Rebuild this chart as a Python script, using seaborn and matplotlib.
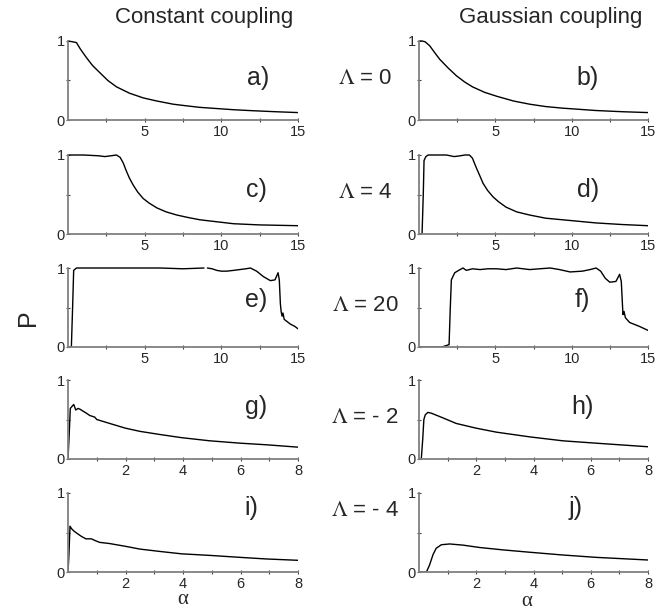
"""P versus alpha for constant and Gaussian coupling at several Lambda values."""

import matplotlib.pyplot as plt
import numpy as np
import pandas as pd
import seaborn as sns

# ---- data -----------------------------------------------------------------
# a) constant coupling, Lambda = 0
a_x = [0, 0.3, 0.55, 0.8, 1.2, 1.6, 2.07, 2.6, 3.16, 4.0, 4.9, 5.8, 6.86, 7.7,
       8.6, 9.7, 10.8, 12.0, 13.5, 15]
a_y = [1.0, 0.99, 0.98, 0.9, 0.79, 0.69, 0.6, 0.5, 0.42, 0.34, 0.28, 0.24, 0.2,
       0.18, 0.16, 0.145, 0.13, 0.118, 0.105, 0.094]
# b) Gaussian coupling, Lambda = 0
b_x = [0, 0.2, 0.4, 0.7, 1.0, 1.35, 1.9, 2.45, 3.0, 3.5, 4.3, 5.1, 6.2, 7.25,
       8.3, 9.4, 10.5, 11.6, 13.3, 15]
b_y = [1.0, 1.0, 0.99, 0.94, 0.86, 0.77, 0.66, 0.56, 0.48, 0.42, 0.35, 0.3,
       0.24, 0.2, 0.17, 0.15, 0.135, 0.12, 0.105, 0.094]
# c) constant coupling, Lambda = 4
c_x = [0, 1.0, 2.0, 2.4, 2.8, 3.16, 3.4, 3.6, 3.8, 4.0, 4.25, 4.55, 4.9, 5.3,
       5.8, 6.4, 7.1, 7.8, 8.6, 9.7, 10.8, 12.5, 15]
c_y = [1.0, 1.0, 0.99, 0.98, 0.99, 1.0, 0.97, 0.9, 0.8, 0.71, 0.62, 0.53, 0.45,
       0.39, 0.33, 0.28, 0.24, 0.21, 0.18, 0.155, 0.13, 0.115, 0.105]
# d) Gaussian coupling, Lambda = 4
d_x = [0, 0.2, 0.28, 0.33, 0.45, 0.6, 1.2, 1.8, 2.3, 2.7, 3.0, 3.3, 3.5, 3.75,
       4.0, 4.2, 4.5, 4.85, 5.2, 5.7, 6.4, 7.25, 8.3, 9.4, 11.6, 13.3, 15]
d_y = [0.0, 0.0, 0.5, 0.93, 0.98, 1.0, 1.0, 1.0, 0.98, 0.99, 1.0, 1.0, 0.96,
       0.84, 0.73, 0.64, 0.55, 0.47, 0.41, 0.34, 0.28, 0.24, 0.2, 0.18, 0.14,
       0.12, 0.105]
# e) constant coupling, Lambda = 20 (the line breaks near alpha = 9)
e1_x = [0, 0.22, 0.3, 0.37, 0.55, 2.0, 4.0, 6.0, 7.5, 8.87]
e1_y = [0.0, 0.0, 0.5, 0.97, 1.0, 1.0, 1.0, 1.0, 0.99, 1.0]
e2_x = [9.09, 9.4, 9.7, 10.0, 10.35, 10.8, 11.2, 11.6, 11.9, 12.3, 12.75, 13.2,
        13.5, 13.7, 13.78, 13.85, 13.9, 13.96, 14.02, 14.1, 14.5, 14.8, 15]
e2_y = [1.0, 0.99, 0.97, 0.96, 0.96, 0.97, 0.98, 0.99, 1.0, 0.96, 0.89, 0.84,
        0.85, 0.94, 0.85, 0.55, 0.45, 0.39, 0.43, 0.35, 0.29, 0.26, 0.23]
# f) Gaussian coupling, Lambda = 20
f_x = [0, 1.5, 1.97, 2.05, 2.12, 2.34, 2.6, 2.88, 3.1, 3.5, 4.0, 4.5, 5.07,
       5.7, 6.4, 7.25, 7.9, 8.6, 9.2, 9.9, 10.7, 11.2, 11.6, 11.9, 12.2, 12.5,
       12.9, 13.14, 13.25, 13.36, 13.43, 13.52, 13.8, 14.45, 15]
f_y = [0.0, 0.0, 0.03, 0.5, 0.85, 0.94, 0.97, 1.0, 0.97, 0.99, 0.98, 0.99,
       0.99, 0.98, 1.0, 0.98, 0.99, 1.0, 0.98, 0.95, 0.96, 0.98, 1.0, 0.96,
       0.87, 0.82, 0.83, 0.92, 0.83, 0.41, 0.45, 0.37, 0.31, 0.26, 0.21]
# g) constant coupling, Lambda = -2
g_x = [0, 0.04, 0.08, 0.15, 0.2, 0.27, 0.35, 0.42, 0.55, 0.64, 0.76, 0.85,
       0.93, 1.0, 1.45, 2.0, 2.5, 3.2, 3.95, 4.94, 6.0, 6.9, 8.0]
g_y = [0.0, 0.3, 0.64, 0.67, 0.69, 0.62, 0.64, 0.63, 0.6, 0.58, 0.55, 0.54,
       0.53, 0.5, 0.45, 0.39, 0.35, 0.31, 0.27, 0.23, 0.2, 0.18, 0.15]
# h) Gaussian coupling, Lambda = -2
h_x = [0, 0.08, 0.13, 0.17, 0.22, 0.31, 0.43, 0.84, 1.3, 2.0, 2.7, 3.87, 5.03,
       6.2, 8.0]
h_y = [0.0, 0.0, 0.25, 0.5, 0.56, 0.59, 0.58, 0.52, 0.45, 0.39, 0.34, 0.28,
       0.23, 0.2, 0.155]
# i) constant coupling, Lambda = -4
i_x = [0, 0.03, 0.07, 0.12, 0.2, 0.31, 0.47, 0.62, 0.81, 0.93, 1.1, 1.45, 2.0,
       2.5, 3.2, 3.95, 4.94, 6.0, 6.9, 8.0]
i_y = [0.0, 0.2, 0.58, 0.55, 0.52, 0.49, 0.45, 0.42, 0.42, 0.4, 0.375, 0.36,
       0.325, 0.29, 0.26, 0.23, 0.21, 0.185, 0.165, 0.148]
# j) Gaussian coupling, Lambda = -4
j_x = [0, 0.26, 0.37, 0.49, 0.6, 0.78, 1.07, 1.54, 2.12, 2.93, 3.87, 5.03,
       6.2, 8.0]
j_y = [0.0, 0.0, 0.09, 0.22, 0.3, 0.345, 0.355, 0.34, 0.31, 0.28, 0.25, 0.215,
       0.185, 0.152]

panel_letters = ["a)", "b)", "c)", "d)", "e)", "f)", "g)", "h)", "i)", "j)"]
lambda_labels = ["0", "4", "20", "- 2", "- 4"]
column_titles = ["Constant coupling", "Gaussian coupling"]
row_xmax = [15, 15, 15, 8, 8]

curves = [
    [(a_x, a_y)], [(b_x, b_y)],
    [(c_x, c_y)], [(d_x, d_y)],
    [(e1_x, e1_y), (e2_x, e2_y)], [(f_x, f_y)],
    [(g_x, g_y)], [(h_x, h_y)],
    [(i_x, i_y)], [(j_x, j_y)],
]

# ---- style ---------------------------------------------------------------
sns.set_style("ticks")
plt.rcParams["font.family"] = ["Liberation Sans", "DejaVu Sans"]
plt.rcParams["mathtext.fontset"] = "stix"

_SPINE = "#808080"
W, H = 667, 612

fig = plt.figure(figsize=(W / 100, H / 100), dpi=100)

col_left = [68, 419]
col_width = [230, 229]
row_zero = [120, 234, 347, 459, 572]  # pixel row of P = 0
unit = 79                              # pixels for P = 1
top_pad = 1.05

# pixel centres of the panel letters
letter_pos = [(258, 78), (588, 78), (256, 190), (588, 190), (256, 300),
              (582, 300), (256, 407), (582, 407), (251, 508), (576, 508)]

for r in range(5):
    for c in range(2):
        k = 2 * r + c
        left = col_left[c] / W
        bottom = 1 - row_zero[r] / H
        height = unit * top_pad / H
        ax = fig.add_axes([left, bottom, col_width[c] / W, height])
        for xs, ys in curves[k]:
            df = pd.DataFrame({"alpha": xs, "P": ys})
            sns.lineplot(data=df, x="alpha", y="P", ax=ax, color="black",
                         linewidth=1.0, estimator=None, sort=False)
        xmax = row_xmax[r]
        ax.set_xlim(0, xmax)
        ax.set_ylim(0, top_pad)
        ax.set_xlabel("")
        ax.set_ylabel("")
        for s in ("top", "right"):
            ax.spines[s].set_visible(False)
        for s in ("left", "bottom"):
            ax.spines[s].set_color(_SPINE)
            ax.spines[s].set_linewidth(1.3)
        ax.spines["left"].set_bounds(0, 1)
        ax.set_yticks([0, 1])
        ax.set_yticks([0.5], minor=True)
        if xmax == 15:
            ax.set_xticks([5, 10, 15])
            ax.set_xticks([2.5, 7.5, 12.5], minor=True)
        else:
            ax.set_xticks([2, 4, 6, 8])
            ax.set_xticks([1, 3, 5, 7], minor=True)
        ax.tick_params(which="both", direction="inout", length=3, width=0.8,
                       color="#404040", labelsize=10.5, pad=1)
        ax.tick_params(axis="x", pad=2)
        lx, ly = letter_pos[k]
        fig.text(lx / W, 1 - ly / H, panel_letters[k], fontsize=18,
                 ha="center", va="center")

# Lambda labels in the middle column
for r in range(5):
    y = 1 - (row_zero[r] - 0.52 * unit) / H
    if r == 4:
        y = 1 - (row_zero[r] - 0.78 * unit) / H
    fig.text(365 / W, y, r"$\Lambda$ = " + lambda_labels[r], fontsize=16,
             ha="center", va="center")

fig.text(204 / W, 1 - 17 / H, column_titles[0], fontsize=16,
         ha="center", va="center")
fig.text(551 / W, 1 - 17 / H, column_titles[1], fontsize=16,
         ha="center", va="center")
fig.text(28 / W, 1 - 318 / H, "P", fontsize=18, rotation=90,
         ha="center", va="center")
fig.text(183 / W, 1 - 600 / H, "α", fontsize=15, family="Liberation Serif",
         ha="center", va="center")
fig.text(527 / W, 1 - 602 / H, "α", fontsize=15, family="Liberation Serif",
         ha="center", va="center")

fig.savefig("out.png", dpi=100)
plt.close(fig)
